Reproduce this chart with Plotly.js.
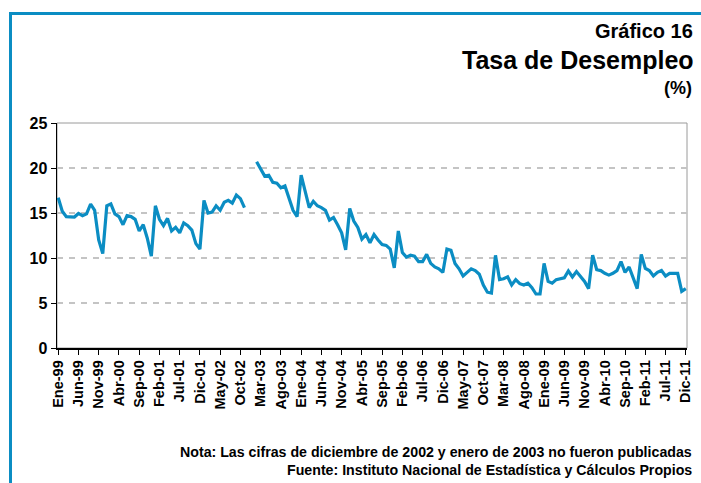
<!DOCTYPE html>
<html>
<head>
<meta charset="utf-8">
<script src="https://cdn.plot.ly/plotly-3.0.1.min.js"></script>
<style>
html,body{margin:0;padding:0;background:#fff;}
#chart{width:701px;height:483px;}
</style>
</head>
<body>
<div id="chart"></div>
<script>
var monthNames = ['Ene','Feb','Mar','Abr','May','Jun','Jul','Ago','Sep','Oct','Nov','Dic'];
var yearLabels = ['99','00','01','02','03','04','05','06','07','08','09','10','11'];
var categories = [];
yearLabels.forEach(function(y){ monthNames.forEach(function(m){ categories.push(m + '-' + y); }); });

// Tasa de desempleo (%), Ene-99 .. Dic-11 (Dic-02 y Ene-03 no publicadas)
var unemployment = [
  16.7, 15.2, 14.6, 14.55, 14.55, 14.95, 14.7, 14.9, 16.0, 15.3, 12.0, 10.5,
  15.8, 16.0, 14.9, 14.6, 13.7, 14.7, 14.6, 14.3, 13.0, 13.7, 12.2, 10.2,
  15.8, 14.3, 13.6, 14.4, 13.0, 13.4, 12.8, 13.9, 13.6, 13.1, 11.6, 11.0,
  16.4, 15.0, 15.1, 15.8, 15.3, 16.2, 16.4, 16.1, 17.0, 16.6, 15.6, null,
  null, 20.7, 19.9, 19.1, 19.2, 18.4, 18.3, 17.8, 18.0, 16.6, 15.3, 14.6,
  19.2, 17.4, 15.6, 16.3, 15.8, 15.6, 15.3, 14.2, 14.5, 13.7, 12.8, 10.9,
  15.5, 14.1, 13.4, 12.1, 12.6, 11.7, 12.6, 12.0, 11.5, 11.4, 11.0, 8.9,
  13.0, 10.6, 10.1, 10.3, 10.2, 9.6, 9.6, 10.4, 9.4, 9.0, 8.8, 8.4,
  11.0, 10.85, 9.4, 8.8, 8.0, 8.4, 8.8, 8.6, 8.2, 7.0, 6.2, 6.1,
  10.3, 7.6, 7.7, 7.9, 7.0, 7.6, 7.15, 7.0, 7.2, 6.7, 6.0, 6.0,
  9.4, 7.4, 7.2, 7.6, 7.7, 7.8, 8.55, 7.9, 8.5, 8.0, 7.4, 6.6,
  10.3, 8.7, 8.6, 8.3, 8.1, 8.3, 8.6, 9.6, 8.4, 9.0, 7.7, 6.6,
  10.4, 8.85, 8.6, 8.0, 8.4, 8.6, 8.0, 8.3, 8.3, 8.3, 6.3, 6.6
];

var tickLabels = ['Ene-99','Jun-99','Nov-99','Abr-00','Sep-00','Feb-01','Jul-01','Dic-01',
  'May-02','Oct-02','Mar-03','Ago-03','Ene-04','Jun-04','Nov-04','Abr-05','Sep-05','Feb-06',
  'Jul-06','Dic-06','May-07','Oct-07','Mar-08','Ago-08','Ene-09','Jun-09','Nov-09','Abr-10',
  'Sep-10','Feb-11','Jul-11','Dic-11'];
var yTicks = [0, 5, 10, 15, 20, 25];

var FONT = 'Arial, "Liberation Sans", sans-serif';
var BLUE = '#0b8dc3';

var trace = {
  x: categories,
  y: unemployment,
  type: 'scatter',
  mode: 'lines',
  connectgaps: false,
  line: {color: BLUE, width: 3.2},
  hoverinfo: 'x+y'
};

// plot area: l=57, t=123, w=630, h=225
function px2x(px){ return (px - 57) / 630; }
function py2y(py){ return (348 - py) / 225; }

var layout = {
  width: 701, height: 483,
  margin: {l: 57, r: 14, t: 123, b: 135},
  paper_bgcolor: '#ffffff',
  plot_bgcolor: '#ffffff',
  showlegend: false,
  font: {family: FONT, color: '#000'},
  xaxis: {
    type: 'category',
    range: [-0.3, 155.3],
    tickmode: 'array',
    tickvals: tickLabels,
    ticktext: tickLabels.map(function(t){ return '<b>' + t + '</b>'; }),
    tickangle: -90,
    ticks: 'outside', ticklen: 5, tickwidth: 1, tickcolor: '#000',
    tickfont: {family: FONT, size: 14.5, color: '#000'},
    showline: true, linecolor: '#000', linewidth: 1.5,
    showgrid: false, zeroline: false, fixedrange: true
  },
  yaxis: {
    range: [0, 25],
    tickmode: 'array',
    tickvals: yTicks,
    ticktext: yTicks.map(function(v){ return '<b>' + v + '</b>'; }),
    ticks: 'outside', ticklen: 5, tickwidth: 1, tickcolor: '#000',
    tickfont: {family: FONT, size: 16, color: '#000'},
    showline: true, linecolor: '#000', linewidth: 1.5,
    showgrid: true, gridcolor: '#c4c4c4', gridwidth: 1.5, griddash: '6px,6px',
    zeroline: false, fixedrange: true
  },
  shapes: [
    {type: 'rect', xref: 'paper', yref: 'paper', x0: 0, x1: 1, y0: 0, y1: 1,
     line: {color: '#9a9a9a', width: 1}, layer: 'below'},
    {type: 'path', xref: 'paper', yref: 'paper',
     path: 'M ' + px2x(10.5) + ' ' + py2y(490) + ' L ' + px2x(10.5) + ' ' + py2y(13.5) +
           ' L ' + px2x(710) + ' ' + py2y(13.5),
     line: {color: BLUE, width: 3}}
  ],
  annotations: [
    {text: '<b>Gráfico 16</b>', xref: 'paper', yref: 'paper', x: px2x(695), y: py2y(31),
     xanchor: 'right', yanchor: 'middle', showarrow: false, font: {family: FONT, size: 20, color: '#000'}},
    {text: '<b>Tasa de Desempleo</b>', xref: 'paper', yref: 'paper', x: px2x(696), y: py2y(60),
     xanchor: 'right', yanchor: 'middle', showarrow: false, font: {family: FONT, size: 25, color: '#000'}},
    {text: '<b>(%)</b>', xref: 'paper', yref: 'paper', x: px2x(694), y: py2y(88),
     xanchor: 'right', yanchor: 'middle', showarrow: false, font: {family: FONT, size: 18, color: '#000'}},
    {text: '<b>Nota: Las cifras de diciembre de 2002 y enero de 2003 no fueron publicadas</b>',
     xref: 'paper', yref: 'paper', x: px2x(694), y: py2y(452),
     xanchor: 'right', yanchor: 'middle', showarrow: false, font: {family: FONT, size: 14.2, color: '#000'}},
    {text: '<b>Fuente: Instituto Nacional de Estadística y Cálculos Propios</b>',
     xref: 'paper', yref: 'paper', x: px2x(694), y: py2y(470),
     xanchor: 'right', yanchor: 'middle', showarrow: false, font: {family: FONT, size: 14.2, color: '#000'}}
  ]
};

Plotly.newPlot('chart', [trace], layout, {displayModeBar: false, staticPlot: true});
</script>
</body>
</html>
